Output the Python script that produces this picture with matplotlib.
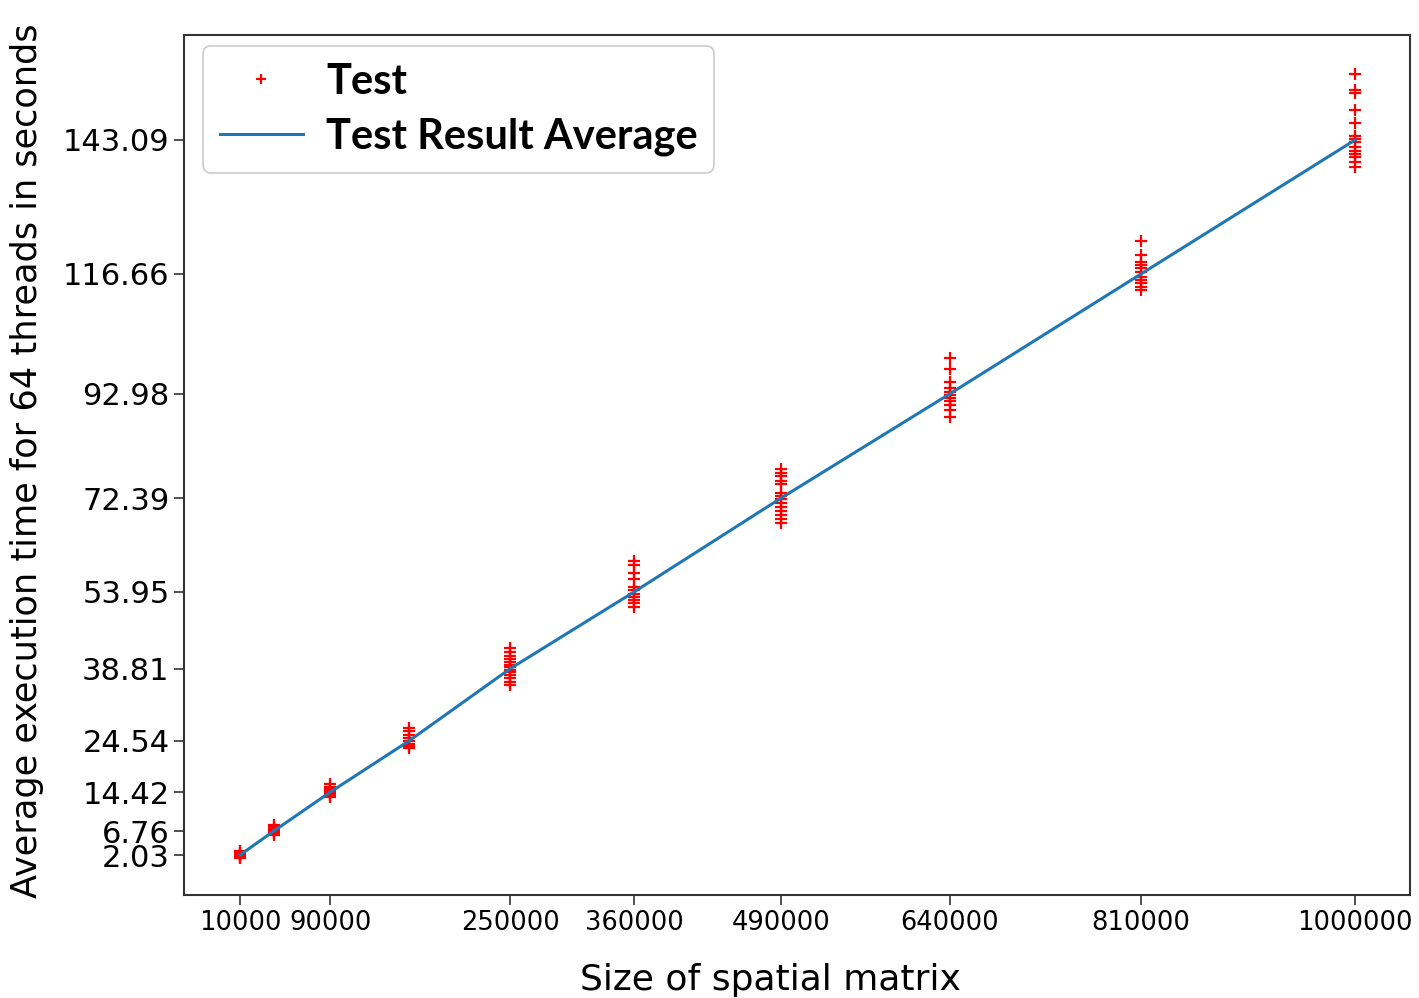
import matplotlib
matplotlib.use("Agg")
import matplotlib.pyplot as plt

sizes = [10000, 40000, 90000, 160000, 250000, 360000, 490000, 640000, 810000, 1000000]
averages = [2.03, 6.76, 14.42, 24.54, 38.81, 53.95, 72.39, 92.98, 116.66, 143.09]
x_tick_values = [10000, 90000, 250000, 360000, 490000, 640000, 810000, 1000000]

t_10000 = [2.8, 2.4, 2.2, 2.0, 1.9, 1.7, 1.5]
t_40000 = [8.0, 7.5, 7.1, 6.9, 6.7, 6.5, 6.3, 5.9]
t_90000 = [16.0, 15.5, 15.0, 14.7, 14.4, 14.1, 13.8, 13.4]
t_160000 = [27.0, 26.4, 25.7, 25.1, 24.5, 24.0, 23.5, 23.1]
t_250000 = [42.8, 42.1, 41.3, 40.7, 40.2, 39.6, 39.1, 38.6, 38.1, 37.5, 36.9, 36.2, 35.6]
t_360000 = [60.0, 59.2, 57.6, 56.5, 54.9, 54.3, 53.6, 53.0, 52.3, 51.7, 51.0]
t_490000 = [78.1, 77.3, 76.7, 75.9, 75.2, 73.4, 72.9, 72.2, 71.5, 70.7, 69.9, 69.1, 68.3, 67.5]
t_640000 = [100.0, 97.9, 95.3, 94.1, 93.4, 92.8, 92.1, 91.5, 90.8, 89.8, 88.5]
t_810000 = [123.2, 120.4, 119.1, 118.4, 117.8, 117.1, 116.1, 115.5, 114.8, 114.1, 113.4]
t_1000000 = [156.1, 152.9, 152.3, 148.9, 146.4, 143.8, 143.2, 142.6, 141.6, 141.0,
             140.3, 139.7, 138.8, 137.7]

tests = [t_10000, t_40000, t_90000, t_160000, t_250000, t_360000,
         t_490000, t_640000, t_810000, t_1000000]

test_x = []
test_y = []
for s, vals in zip(sizes, tests):
    test_x.extend([s] * len(vals))
    test_y.extend(vals)

plt.rcParams['font.family'] = ['DejaVu Sans']

fig = plt.figure(figsize=(14.19, 9.98), dpi=100)
ax = fig.add_axes([0.1297, 0.1032, 0.8640, 0.8618])

ax.plot(test_x, test_y, linestyle='none', marker='+', color='red',
        markersize=9, markeredgewidth=1.6, label='Test')
ax.plot(sizes, averages, color='#1f77b4', linewidth=2.2, label='Test Result Average')

ax.set_xlim(-39700, 1048800)
ax.set_ylim(-5.86, 163.8)
ax.set_xticks(x_tick_values)
ax.set_xticklabels([str(v) for v in x_tick_values], fontsize=18.5)
ax.set_yticks(averages)
ax.set_yticklabels([f"{v:.2f}" for v in averages], fontsize=22)
ax.tick_params(axis='both', length=7, width=1.2, color='#333333')
for sp in ax.spines.values():
    sp.set_color('#333333')
    sp.set_linewidth(1.5)

ax.set_xlabel('Size of spatial matrix', fontsize=26)
ax.xaxis.set_label_coords(0.478, -0.079)
ax.set_ylabel('Average execution time for 64 threads in seconds', fontsize=25.3)
ax.yaxis.set_label_coords(-0.114, 0.505)

leg = ax.legend(loc='upper left', bbox_to_anchor=(0.0155, 0.987), borderaxespad=0.0,
                prop={'family': ['Lato', 'DejaVu Sans'], 'weight': 'bold', 'size': 30},
                markerscale=0.75, labelspacing=0.4, handlelength=2.0,
                borderpad=0.4, handletextpad=0.55, fancybox=True, framealpha=1.0)
leg.get_frame().set_edgecolor('#cccccc')
leg.get_frame().set_linewidth(1.2)

fig.savefig('out.png', dpi=100)
